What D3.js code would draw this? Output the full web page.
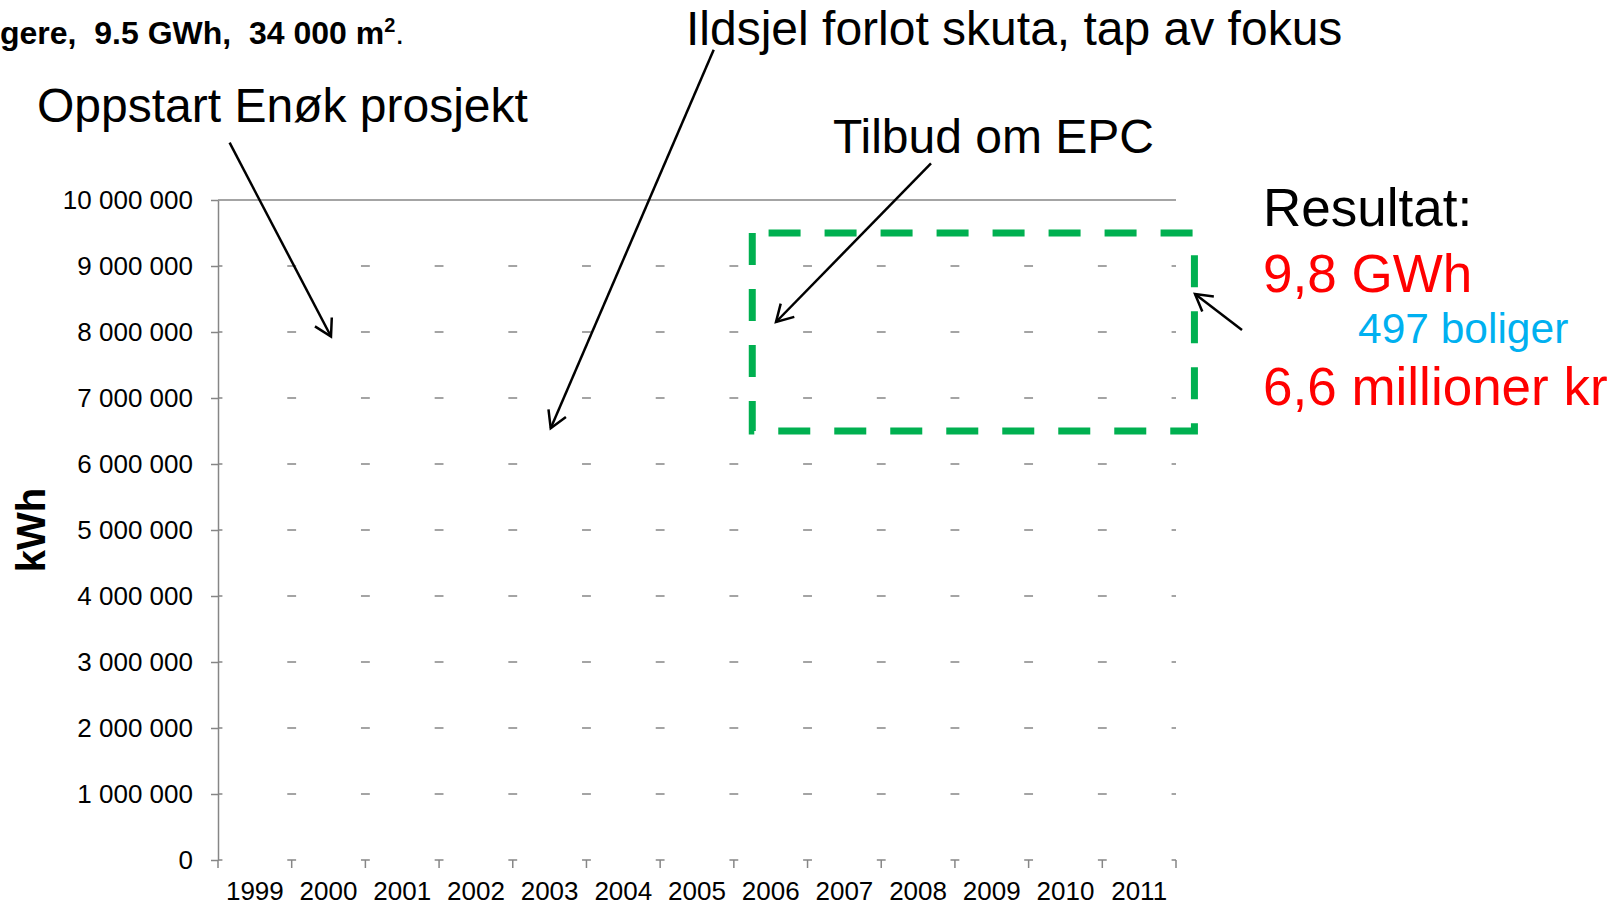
<!DOCTYPE html>
<html>
<head>
<meta charset="utf-8">
<script src="https://cdn.jsdelivr.net/npm/d3@7"></script>
<style>
  body { margin: 0; background: #fff; }
  svg { display: block; font-family: 'Liberation Sans', Arial, sans-serif; }
</style>
</head>
<body>
<div id="chart"></div>
<script>
// categories (x axis)
const years = ['1999', '2000', '2001', '2002', '2003', '2004', '2005', '2006',
  '2007', '2008', '2009', '2010', '2011'];
// yearly consumption, kWh (bars are white, only the gaps in the gridlines show them)
const consumption = [9500000, 9500000, 9500000, 9500000, 9500000, 9500000, 9500000,
  9500000, 9500000, 9500000, 9500000, 9500000, 9500000];
// y axis ticks
const yTicks = [0, 1000000, 2000000, 3000000, 4000000, 5000000, 6000000,
  7000000, 8000000, 9000000, 10000000];
// EPC box range (kWh)
const boxRange = [6500000, 9500000];

const W = 1622, H = 905;
const margin = { top: 200, right: 446, bottom: 45, left: 218 };
const width = W - margin.left - margin.right;
const height = H - margin.top - margin.bottom;
const grey = '#868686';

const svg = d3.select('#chart')
  .append('svg')
  .attr('width', W)
  .attr('height', H);

const g = svg.append('g')
  .attr('transform', `translate(${margin.left},${margin.top})`);

const x = d3.scaleBand()
  .domain(years)
  .range([0, width]);

const xBar = d3.scaleBand()
  .domain(years)
  .range([0, width])
  .paddingInner(0.12)
  .paddingOuter(0.06);

const y = d3.scaleLinear()
  .domain([0, 10000000])
  .range([height, 0]);

// gridlines
g.append('g')
  .selectAll('line')
  .data(yTicks)
  .enter()
  .append('line')
  .attr('x1', 0)
  .attr('x2', width)
  .attr('y1', d => y(d))
  .attr('y2', d => y(d))
  .attr('stroke', grey)
  .attr('stroke-width', 1.5);

// white bars
g.append('g')
  .selectAll('rect')
  .data(consumption)
  .enter()
  .append('rect')
  .attr('x', (d, i) => xBar(years[i]))
  .attr('width', xBar.bandwidth())
  .attr('y', d => y(d))
  .attr('height', d => y(0) - y(d) + 1.5)
  .attr('fill', '#fff');

// x axis: labels in the bands, ticks on the boundaries
const xAxis = g.append('g')
  .attr('transform', `translate(0,${height})`)
  .call(d3.axisBottom(x).tickSize(0).tickPadding(21.5));
xAxis.select('.domain').remove();
xAxis.selectAll('text')
  .attr('font-size', '26px')
  .attr('font-family', 'Liberation Sans, Arial, sans-serif')
  .attr('fill', '#000');

g.append('g')
  .selectAll('line')
  .data(years.concat(['end']))
  .enter()
  .append('line')
  .attr('x1', d => (d === 'end' ? width : x(d)))
  .attr('x2', d => (d === 'end' ? width : x(d)))
  .attr('y1', height)
  .attr('y2', height + 8)
  .attr('stroke', grey)
  .attr('stroke-width', 1.5);

// y axis
const yAxis = g.append('g')
  .call(d3.axisLeft(y)
    .tickValues(yTicks)
    .tickSize(7)
    .tickSizeOuter(0)
    .tickPadding(18)
    .tickFormat(d => d3.format(',')(d).replace(/,/g, ' ')));
yAxis.select('.domain').attr('stroke', grey).attr('stroke-width', 1.5);
yAxis.selectAll('.tick line').attr('stroke', grey).attr('stroke-width', 1.5);
yAxis.selectAll('text')
  .attr('font-size', '26px')
  .attr('font-family', 'Liberation Sans, Arial, sans-serif')
  .attr('fill', '#000');

// y label
svg.append('text')
  .attr('transform', 'translate(45,530) rotate(-90)')
  .style('text-anchor', 'middle')
  .attr('font-size', '40px')
  .attr('font-weight', 'bold')
  .text('kWh');

// green dashed EPC box
const step = x.step();
const bx0 = x('2006') + step * 0.25;
const bx1 = width + step * 0.25;
const by0 = y(boxRange[1]);
const by1 = y(boxRange[0]);
g.append('path')
  .attr('d', `M${bx0},${by0}V${by1}H${bx1}V${by0}Z`)
  .attr('fill', 'none')
  .attr('stroke', '#00B050')
  .attr('stroke-width', 7)
  .attr('stroke-dasharray', '32 24');

// arrows
const arrows = [
  [229.6, 142.7, 331, 336.5],
  [713.7, 49.7, 550.7, 428.3],
  [931, 163.4, 776, 322],
  [1242, 330, 1195, 294]
];
const arrowG = svg.append('g')
  .attr('stroke', '#000')
  .attr('stroke-width', 2.5)
  .attr('fill', 'none');
arrows.forEach(a => {
  const ang = Math.atan2(a[3] - a[1], a[2] - a[0]);
  const len = 19;
  const p1 = [a[2] - len * Math.cos(ang - Math.PI / 6), a[3] - len * Math.sin(ang - Math.PI / 6)];
  const p2 = [a[2] - len * Math.cos(ang + Math.PI / 6), a[3] - len * Math.sin(ang + Math.PI / 6)];
  arrowG.append('line')
    .attr('x1', a[0]).attr('y1', a[1])
    .attr('x2', a[2]).attr('y2', a[3]);
  arrowG.append('path')
    .attr('d', `M${p1[0]},${p1[1]}L${a[2]},${a[3]}L${p2[0]},${p2[1]}`);
});

// header line (cut off at the left)
const head = svg.append('text')
  .attr('x', 0)
  .attr('y', 44)
  .attr('font-size', '32px')
  .attr('font-weight', 'bold')
  .style('white-space', 'pre');
head.append('tspan').text('gere,  9.5 GWh,  34 000 m');
head.append('tspan').attr('font-size', '20px').attr('dy', -12).text('2');
head.append('tspan').attr('font-weight', 'normal').attr('dy', 12).text('.');

// annotations
const notes = [
  { text: 'Oppstart Enøk prosjekt', x: 37, y: 122, size: 48, color: '#000' },
  { text: 'Ildsjel forlot skuta, tap av fokus', x: 686, y: 45, size: 48, color: '#000' },
  { text: 'Tilbud om EPC', x: 833, y: 153, size: 48, color: '#000' },
  { text: 'Resultat:', x: 1263, y: 226, size: 53, color: '#000' },
  { text: '9,8 GWh', x: 1263, y: 292, size: 53, color: '#FF0000' },
  { text: '497 boliger', x: 1358, y: 343, size: 42.5, color: '#00B0F0' },
  { text: '6,6 millioner kr', x: 1263, y: 405, size: 53, color: '#FF0000' }
];
svg.append('g')
  .selectAll('text')
  .data(notes)
  .enter()
  .append('text')
  .attr('x', d => d.x)
  .attr('y', d => d.y)
  .attr('font-size', d => d.size + 'px')
  .attr('fill', d => d.color)
  .text(d => d.text);
</script>
</body>
</html>
